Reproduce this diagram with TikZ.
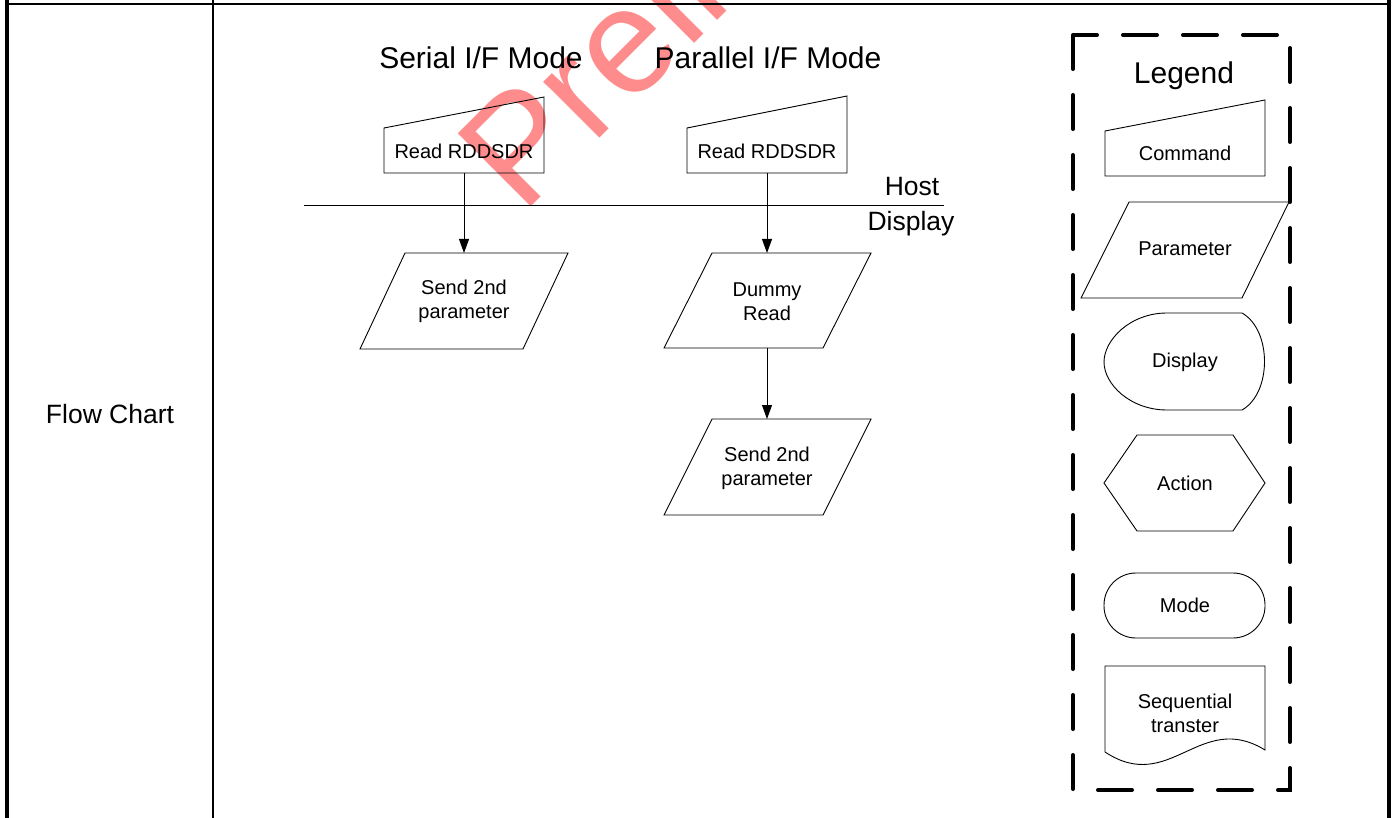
\documentclass[tikz,border=0pt]{standalone}
\usepackage{fontspec}
\setmainfont{Liberation Sans}
\usetikzlibrary{arrows.meta}
\tikzset{
  shp/.style={draw=black, line width=0.9pt},
  conn/.style={draw=black, line width=0.9pt, -{Triangle[length=14pt,width=10pt]}},
  sm/.style={font=\fontsize{20}{24}\selectfont, align=center, inner sep=0pt},
  big/.style={font=\fontsize{30}{36}\selectfont, inner sep=0pt},
  mid/.style={font=\fontsize{26.5}{32}\selectfont, inner sep=0pt},
  legbox/.style={draw=black, line width=4pt, line cap=round, dash pattern=on 34pt off 26pt},
  wmark/.style={text=red, opacity=0.45, font=\fontsize{150}{160}\selectfont, inner sep=0pt}
}
\begin{document}
\begin{tikzpicture}[x=1pt,y=-1pt]
\useasboundingbox (0,0) rectangle (1395,818);
% watermark (behind everything)
\begin{scope}
\clip (0,0) rectangle (1395,818);
\node[wmark, anchor=base west, rotate=45] (wm) at (522,216) {Preliminary};
\end{scope}

% table frame
\draw[line width=2pt] (7,4) -- (1389,4);
\draw[line width=4pt] (7,0) -- (7,818);
\draw[line width=2pt] (213,0) -- (213,818);
\draw[line width=4pt] (1389,0) -- (1389,818);
\node[mid] (fc) at (110,414) {Flow Chart};

% titles
\node[big] (tser) at (481,58) {Serial I/F Mode};
\node[big] (tpar) at (768,58) {Parallel I/F Mode};

% host / display divider
\coordinate (hl) at (304,205);
\coordinate (hr) at (944,205);
\draw[line width=0.9pt] (hl) -- (hr);
\node[mid] (host) at (912,187) {Host};
\node[mid] (disp) at (911,224) {Display};

% serial column
\draw[shp] (384,128) -- (544,97) -- (544,173) -- (384,173) -- cycle;
\node[sm] (scmd) at (464,151) {Read RDDSDR};
\coordinate (scmdB) at (464,173);
\draw[shp] (405,253) -- (568,253) -- (523,349) -- (360,349) -- cycle;
\node[sm] (spar) at (464,301) {Send 2nd\\parameter};
\coordinate (sparT) at (464,253);
\draw[conn] (scmdB) -- (sparT);

% parallel column
\draw[shp] (687,128) -- (847,96) -- (847,173) -- (687,173) -- cycle;
\node[sm] (pcmd) at (767,151) {Read RDDSDR};
\coordinate (pcmdB) at (767,173);
\draw[shp] (712,253) -- (871,253) -- (823,348) -- (664,348) -- cycle;
\node[sm] (pdum) at (767,302) {Dummy\\Read};
\coordinate (pdumT) at (767,253);
\coordinate (pdumB) at (767,348);
\draw[shp] (712,419) -- (871,419) -- (823,515) -- (664,515) -- cycle;
\node[sm] (ppar) at (767,468) {Send 2nd\\parameter};
\coordinate (pparT) at (767,419);
\draw[conn] (pcmdB) -- (pdumT);
\draw[conn] (pdumB) -- (pparT);

% legend
\draw[legbox] (1073,35) rectangle (1290,790);
\node[big] (leg) at (1184,76) {Legend};
\draw[shp] (1105,131) -- (1265,100) -- (1265,176) -- (1105,176) -- cycle;
\node[sm] (lcmd) at (1185,153) {Command};
\draw[shp] (1129,202) -- (1289,202) -- (1242,298) -- (1081,298) -- cycle;
\node[sm] (lpar) at (1185,249) {Parameter};
\draw[shp] (1167,313) -- (1242,313) .. controls (1272,330) and (1272,393) .. (1242,410)
  -- (1167,410) .. controls (1130,410) and (1104,384) .. (1104,362)
  .. controls (1104,340) and (1130,313) .. (1167,313) -- cycle;
\node[sm] (ldis) at (1185,362) {Display};
\draw[shp] (1104,483) -- (1137,435) -- (1233,435) -- (1265,483) -- (1233,531) -- (1137,531) -- cycle;
\node[sm] (lact) at (1185,483) {Action};
\draw[shp, rounded corners=32pt] (1104,573) rectangle (1265,638);
\node[sm] (lmod) at (1185,605) {Mode};
\draw[shp] (1105,752) -- (1105,666) -- (1265,666) -- (1265,750)
  .. controls (1200,710) and (1170,795) .. (1105,752);
\node[sm] (lseq) at (1185,713) {Sequential\\transter};
\end{tikzpicture}
\end{document}
